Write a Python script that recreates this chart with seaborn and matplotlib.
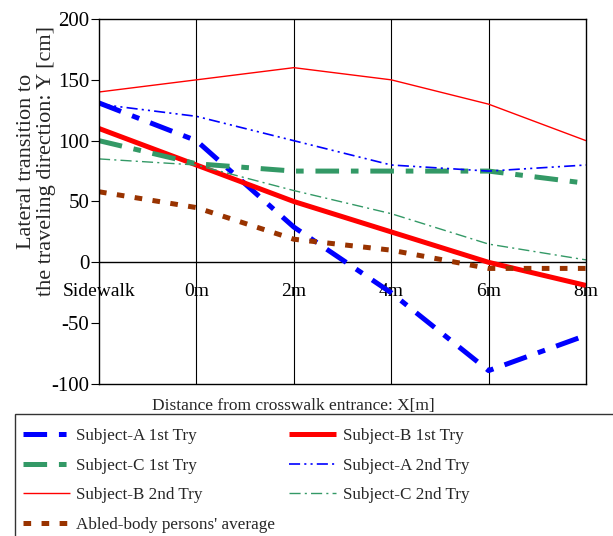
import matplotlib
matplotlib.use("Agg")
import matplotlib.pyplot as plt
from matplotlib.patches import Rectangle
import seaborn as sns
import pandas as pd

# ---- data ----
categories = ["Sidewalk", "0m", "2m", "4m", "6m", "8m"]
subject_a_1st = [131, 100, 29, -25, -89, -60]
subject_b_1st = [110, 80, 50, 25, 0, -19]
subject_c_1st = [100, 81, 75, 75, 75, 65]
subject_a_2nd = [130, 120, 100, 80, 75, 80]
subject_b_2nd = [140, 150, 160, 150, 130, 100]
subject_c_2nd = [85, 80, 59, 40, 15, 2]
abled_average = [58, 45, 19, 10, -5, -5]
series_names = ["Subject-A 1st Try", "Subject-B 1st Try", "Subject-C 1st Try",
                "Subject-A 2nd Try", "Subject-B 2nd Try", "Subject-C 2nd Try",
                "Abled-body persons' average"]
series_values = [subject_a_1st, subject_b_1st, subject_c_1st,
                 subject_a_2nd, subject_b_2nd, subject_c_2nd, abled_average]
y_ticks = [-100, -50, 0, 50, 100, 150, 200]

# ---- styles ----
BLUE = "#0000FF"
RED = "#FF0000"
GREEN = "#339966"
BROWN = "#993300"
styles = {
    "Subject-A 1st Try": dict(color=BLUE, lw=3.6, ls=(0, (17, 8.5, 5.5, 8.5))),
    "Subject-B 1st Try": dict(color=RED, lw=3.6, ls="-"),
    "Subject-C 1st Try": dict(color=GREEN, lw=3.6, ls=(0, (17, 8.5, 5.5, 8.5))),
    "Subject-A 2nd Try": dict(color=BLUE, lw=1.2, ls=(0, (8, 3, 1.5, 3, 1.5, 3))),
    "Subject-B 2nd Try": dict(color=RED, lw=1.0, ls="-"),
    "Subject-C 2nd Try": dict(color=GREEN, lw=1.0, ls=(0, (8, 3, 1.5, 3))),
    "Abled-body persons' average": dict(color=BROWN, lw=3.6, ls=(0, (5.5, 7.5))),
}

sns.set_style("white")
plt.rcParams["font.family"] = ["Liberation Serif", "DejaVu Serif"]
plt.rcParams["lines.scale_dashes"] = False
plt.rcParams["axes.unicode_minus"] = False

fig = plt.figure(figsize=(6.13, 5.36), dpi=100)
ax = fig.add_axes([99 / 613, 1 - 384 / 536, 487 / 613, 365 / 536])

rows = []
for name, vals in zip(series_names, series_values):
    for c, v in zip(categories, vals):
        rows.append({"x": c, "y": v, "series": name})
df = pd.DataFrame(rows)

handles = {}
for name in series_names:
    st = styles[name]
    sub = df[df["series"] == name]
    sns.lineplot(data=sub, x="x", y="y", ax=ax, color=st["color"],
                 linewidth=st["lw"], linestyle=st["ls"], sort=False,
                 estimator=None, label=name, legend=False)
    line = ax.get_lines()[-1]
    line.set_dash_capstyle("butt")
    line.set_solid_capstyle("butt")
    handles[name] = line

ax.set_xlim(0, len(categories) - 1)
ax.set_ylim(-100, 200)
ax.set_yticks(y_ticks)

# grid: vertical lines at interior categories, horizontal at zero
for i in range(1, len(categories) - 1):
    ax.axvline(i, color="black", lw=0.8, zorder=0)
ax.axhline(0, color="black", lw=1.0, zorder=0)

for s in ax.spines.values():
    s.set_color("black")
    s.set_linewidth(1.0)

ax.tick_params(axis="y", which="both", direction="out", length=6, width=0.8,
               pad=1, labelsize=15, left=True, colors="black")
ax.tick_params(axis="x", length=0, pad=-73, labelsize=14, colors="black")
for lbl in ax.get_xticklabels():
    lbl.set_zorder(5)

ax.set_xlabel("Distance from crosswalk entrance: X[m]", fontsize=12.5)
ax.xaxis.set_label_coords(0.40, -0.038)
ax.set_ylabel("Lateral transition to\nthe traveling direction: Y [cm]",
              fontsize=16, linespacing=1.05)
ax.yaxis.set_label_coords(-0.088, 0.61)

# legend frame extending beyond figure bottom/right
fig.patches.append(Rectangle((15 / 613, -0.1), 1.0, 1 - 414 / 536 + 0.1,
                             transform=fig.transFigure, fill=False,
                             edgecolor="#333333", lw=1.0))

order = ["Subject-A 1st Try", "Subject-C 1st Try", "Subject-B 2nd Try",
         "Abled-body persons' average",
         "Subject-B 1st Try", "Subject-A 2nd Try", "Subject-C 2nd Try"]
fig.legend([handles[n] for n in order], order, loc="upper left",
           bbox_to_anchor=(23 / 613, 1 - 428 / 536), ncol=2, frameon=False,
           fontsize=12.3, handlelength=2.75, handletextpad=0.38,
           columnspacing=0.8, labelspacing=0.8, borderpad=0, borderaxespad=0)

fig.savefig("out.png", dpi=100)
